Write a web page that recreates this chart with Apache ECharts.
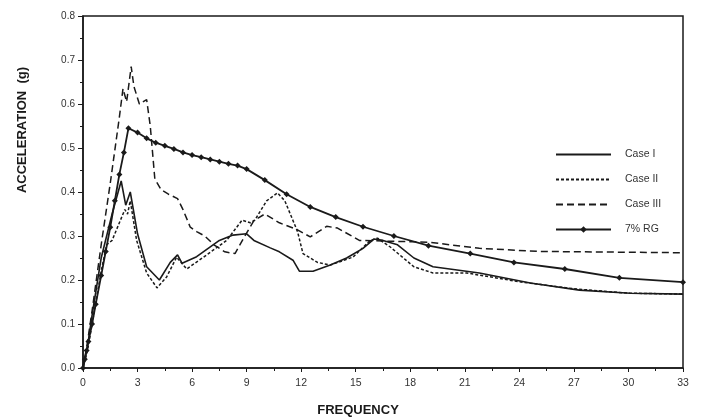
<!DOCTYPE html>
<html>
<head>
<meta charset="utf-8">
<script src="https://cdn.jsdelivr.net/npm/echarts@6/dist/echarts.min.js"></script>
<style>
  html, body { margin: 0; padding: 0; background: #fff; }
  #chart { width: 701px; height: 420px; }
</style>
</head>
<body>
<div id="chart"></div>
<script>
// frequency / acceleration pairs
var case1 = [[0,0],[0.25,0.05],[0.5,0.12],[1,0.25],[1.3,0.3],[1.6,0.35],[2.1,0.425],[2.35,0.37],[2.6,0.4],
  [3.0,0.305],[3.5,0.23],[4.2,0.2],[4.8,0.24],[5.2,0.257],[5.45,0.238],[6.25,0.253],[7.5,0.29],[8.25,0.302],
  [9.0,0.305],[9.4,0.29],[10.3,0.273],[10.8,0.264],[11.55,0.245],[11.9,0.22],[12.65,0.22],[13.6,0.234],
  [14.5,0.25],[15.4,0.272],[16.0,0.293],[16.5,0.29],[17.3,0.28],[18.2,0.25],[19.25,0.23],[21.8,0.216],
  [24.6,0.193],[27.3,0.177],[30.1,0.17],[33,0.168]];
var case2 = [[0,0],[0.25,0.04],[0.5,0.1],[1,0.22],[1.3,0.28],[1.6,0.29],[2.0,0.33],[2.3,0.36],[2.45,0.35],
  [2.6,0.38],[2.95,0.29],[3.5,0.216],[4.07,0.182],[4.6,0.207],[5.15,0.252],[5.7,0.225],[6.8,0.257],[7.9,0.29],
  [8.75,0.336],[9.2,0.33],[9.45,0.336],[10.1,0.38],[10.7,0.398],[11.1,0.38],[11.8,0.31],[12.1,0.26],
  [12.9,0.24],[13.6,0.234],[14.85,0.252],[15.8,0.29],[16.2,0.295],[16.9,0.275],[18.2,0.23],[19.25,0.216],
  [21.1,0.216],[24,0.196],[27,0.18],[30,0.17],[33,0.168]];
var case3 = [[0,0],[0.25,0.06],[0.5,0.13],[1,0.28],[1.5,0.42],[2.0,0.57],[2.2,0.635],[2.4,0.605],[2.65,0.685],
  [2.8,0.64],[3.1,0.6],[3.5,0.61],[3.7,0.55],[3.95,0.43],[4.3,0.405],[4.7,0.395],[5.2,0.385],[5.5,0.36],
  [5.9,0.32],[6.25,0.31],[6.7,0.3],[7.2,0.28],[7.8,0.264],[8.36,0.26],[8.9,0.3],[9.4,0.335],[10.0,0.35],
  [10.8,0.33],[11.8,0.314],[12.5,0.298],[13.4,0.322],[14.0,0.318],[15.2,0.29],[17,0.288],[19,0.286],
  [21.8,0.272],[25,0.265],[33,0.262]];
var rg7 = [[0,0],[0.1,0.02],[0.2,0.04],[0.3,0.06],[0.5,0.1],[0.7,0.145],[1.0,0.21],[1.25,0.265],[1.5,0.32],
  [1.75,0.38],[2.0,0.44],[2.25,0.49],[2.5,0.545],[3,0.535],[3.5,0.522],[4,0.512],[4.5,0.505],[5,0.498],
  [5.5,0.49],[6,0.484],[6.5,0.479],[7,0.474],[7.5,0.469],[8,0.464],[8.5,0.46],[9,0.452],[10,0.427],
  [11.2,0.395],[12.5,0.366],[13.9,0.343],[15.4,0.321],[17.1,0.3],[19,0.278],[21.3,0.26],[23.7,0.24],
  [26.5,0.225],[29.5,0.205],[33,0.195]];

var seriesNames = ['Case I', 'Case II', 'Case III', '7% RG'];
var ink = '#1a1a1a';
var font = 'Liberation Sans';

var chart = echarts.init(document.getElementById('chart'), null, { renderer: 'canvas' });
chart.setOption({
  animation: false,
  backgroundColor: '#fff',
  grid: { left: 83, right: 18, top: 16, bottom: 52, show: true, borderColor: ink, borderWidth: 1.5 },
  graphic: [
    { type: 'text', x: 22, y: 130, rotation: Math.PI / 2,
      style: { text: 'ACCELERATION  (g)', fill: ink, font: 'bold 13px "Liberation Sans"',
        textAlign: 'center', textVerticalAlign: 'middle' } },
    { type: 'text', x: 358, y: 410,
      style: { text: 'FREQUENCY', fill: ink, font: 'bold 13px "Liberation Sans"',
        textAlign: 'center', textVerticalAlign: 'middle' } }
  ],
  legend: {
    orient: 'vertical',
    left: 550,
    top: 144,
    itemWidth: 55,
    itemHeight: 8,
    itemGap: 14,
    textStyle: { color: '#333', fontFamily: font, fontSize: 10.5, padding: [0, 0, 0, 9] },
    data: [
      { name: seriesNames[0], itemStyle: { opacity: 0 } },
      { name: seriesNames[1], itemStyle: { opacity: 0 } },
      { name: seriesNames[2], itemStyle: { opacity: 0 } },
      { name: seriesNames[3] }
    ]
  },
  xAxis: {
    type: 'value',
    min: 0, max: 33, interval: 3,
    axisLine: { lineStyle: { color: ink, width: 1.5 } },
    axisTick: { length: 4, lineStyle: { color: ink } },
    minorTick: { show: true, splitNumber: 2, length: 3, lineStyle: { color: ink } },
    splitLine: { show: false },
    axisLabel: { color: '#333', fontFamily: font, fontSize: 10.5, margin: 10 }
  },
  yAxis: {
    type: 'value',
    min: 0, max: 0.8, interval: 0.1,
    axisLine: { lineStyle: { color: ink, width: 1.5 } },
    axisTick: { length: 5, lineStyle: { color: ink } },
    minorTick: { show: true, splitNumber: 2, length: 3, lineStyle: { color: ink } },
    splitLine: { show: false },
    axisLabel: {
      color: '#333', fontFamily: font, fontSize: 10, margin: 8,
      formatter: function(v) { return v.toFixed(1); }
    }
  },
  series: [
    { name: seriesNames[0], type: 'line', data: case1, symbol: 'none', color: ink,
      lineStyle: { color: ink, width: 1.6 } },
    { name: seriesNames[1], type: 'line', data: case2, symbol: 'none', color: ink,
      lineStyle: { color: ink, width: 1.5, type: [3, 2] } },
    { name: seriesNames[2], type: 'line', data: case3, symbol: 'none', color: ink,
      lineStyle: { color: ink, width: 1.5, type: [7, 4] } },
    { name: seriesNames[3], type: 'line', data: rg7, symbol: 'diamond', symbolSize: 6, showAllSymbol: true,
      color: ink, itemStyle: { color: ink }, lineStyle: { color: ink, width: 1.8 } }
  ]
});
window.addEventListener('resize', function() { chart.resize(); });
</script>
</body>
</html>
